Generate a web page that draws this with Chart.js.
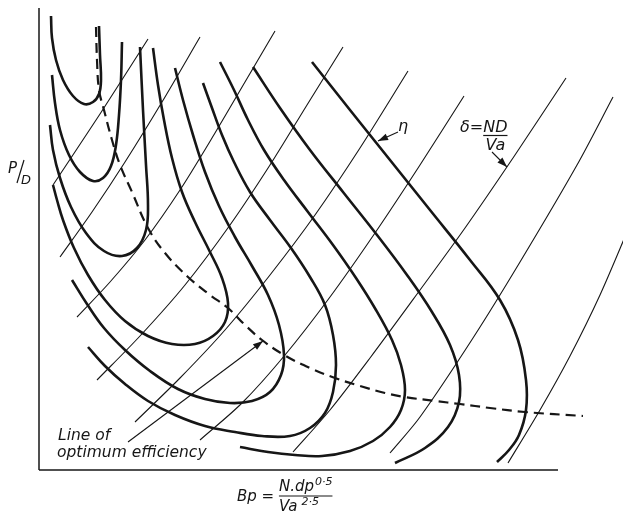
<!DOCTYPE html>
<html>
<head>
<meta charset="utf-8">
<script src="https://cdn.jsdelivr.net/npm/chart.js@4.4.1/dist/chart.umd.min.js"></script>
<style>
  html, body { margin: 0; padding: 0; background: #fff; }
  canvas { display: block; }
</style>
</head>
<body>
<canvas id="chart" width="623" height="512"></canvas>
<script>
// Bp-delta propeller design chart, no scale values, plot units only
// x runs 0..584 along Bp (axis drawn to 519), y runs 0..462 along P/D

// efficiency contours (eta), innermost first
const eta1 = [[60,444],[61,415],[62,390],[60,376],[54,368],[45,366],[34,374],[24,390],[17,410],[13,432],[12,454]];
const eta2 = [[83,428],[82,390],[80,355],[77,325],[72,304],[64,292],[54,289],[41,298],[30,315],[21,340],[16,367],[13,395]];
const eta3 = [[101,423],[104,360],[107,305],[109,265],[107,240],[98,222],[83,214],[65,219],[47,237],[32,263],[21,292],[14,320],[11,345]];
const eta4 = [[114,422],[119,385],[125,350],[133,312],[143,278],[156,248],[171,218],[183,192],[189,167],[186,148],[174,134],[156,126],[133,126],[109,134],[86,149],[66,170],[49,195],[35,222],[24,250],[18,270],[14,285]];
const eta5 = [[136,402],[144,370],[154,335],[166,298],[180,264],[196,233],[213,204],[229,175],[240,145],[245,115],[242,95],[231,78],[213,69],[191,67],[166,71],[139,81],[111,99],[86,120],[65,142],[48,166],[33,190]];
const eta6 = [[164,387],[173,362],[183,335],[195,308],[211,278],[231,250],[252,222],[271,193],[286,165],[294,135],[297,105],[294,78],[286,57],[271,42],[251,34],[223,34],[196,38],[166,44],[136,55],[109,69],[86,86],[66,104],[49,123]];
const eta7 = [[181,408],[195,380],[209,350],[225,320],[245,290],[269,258],[294,225],[317,192],[337,160],[353,130],[362,105],[366,80],[362,60],[351,43],[334,29],[311,19],[283,14],[256,15],[229,18],[201,23]];
const eta8 = [[214,403],[241,362],[271,320],[304,278],[338,235],[368,195],[393,158],[411,125],[420,95],[420,68],[409,43],[386,22],[356,7]];
const eta9 = [[273,408],[311,360],[351,310],[391,260],[431,210],[461,170],[479,130],[487,90],[487,60],[480,35],[470,20],[458,8]];
const etaCurves = [eta1, eta2, eta3, eta4, eta5, eta6, eta7, eta8, eta9];

// lines of constant delta = ND/Va
const delta1 = [[14,285],[61,356],[109,431]];
const delta2 = [[21,213],[53,258],[86,308],[123,368],[161,433]];
const delta3 = [[38,153],[71,188],[106,230],[141,280],[176,337],[206,388],[236,439]];
const delta4 = [[58,90],[101,134],[146,185],[191,245],[231,305],[268,365],[304,423]];
const delta5 = [[96,48],[141,92],[186,140],[231,195],[276,255],[321,322],[369,399]];
const delta6 = [[161,30],[203,67],[246,115],[291,173],[336,237],[381,305],[425,374]];
const delta7 = [[254,18],[291,60],[331,112],[381,180],[426,242],[476,315],[527,392]];
const delta8 = [[351,17],[381,53],[434,132],[481,208],[538,305],[574,373]];
const delta9 = [[469,7],[501,60],[531,114],[561,175],[591,245]];
const deltaLines = [delta1, delta2, delta3, delta4, delta5, delta6, delta7, delta8, delta9];

// line of optimum efficiency
const optimum = [[57,443],[58,410],[60,380],[65,360],[73,330],[81,305],[93,278],[109,242],[126,217],[149,193],[171,175],[189,162],[206,145],[223,130],[245,115],[271,102],[296,92],[321,84],[346,77],[366,73],[396,69],[421,66],[451,62],[486,58],[544,54]];

// leader arrows (tail, head)
const optimumArrow = [[89,28],[224,129]];
const etaArrow = [[359,338],[339,329]];
const deltaArrow = [[453,318],[468,303]];

// axis lines
const xAxisLine = [[0,0],[519,0]];
const yAxisLine = [[0,0],[0,462]];

const ink = '#161616';
const pts = a => a.map(([x, y]) => ({ x, y }));

const datasets = [];
etaCurves.forEach(c => datasets.push({
  data: pts(c), borderColor: ink, borderWidth: 2.6, tension: 0.4
}));
deltaLines.forEach(c => datasets.push({
  data: pts(c), borderColor: ink, borderWidth: 1.1, tension: 0.3
}));
datasets.push({
  data: pts(optimum), borderColor: ink, borderWidth: 2.2, borderDash: [10, 6], tension: 0.4
});
[optimumArrow, etaArrow, deltaArrow].forEach(a => datasets.push({
  data: pts(a), borderColor: ink, borderWidth: 1.1, tension: 0, arrowHead: true
}));
[xAxisLine, yAxisLine].forEach(a => datasets.push({
  data: pts(a), borderColor: ink, borderWidth: 1.5, tension: 0
}));

// text and arrowheads drawn on top of the series
const annotations = {
  id: 'annotations',
  afterDatasetsDraw(chart) {
    const { ctx, scales: { x, y } } = chart;
    const px = v => x.getPixelForValue(v);
    const py = v => y.getPixelForValue(v);
    ctx.save();
    ctx.fillStyle = ink;
    ctx.strokeStyle = ink;

    // arrowheads
    chart.data.datasets.forEach((ds, i) => {
      if (!ds.arrowHead) return;
      const el = chart.getDatasetMeta(i).data;
      const a = el[el.length - 2], b = el[el.length - 1];
      const ang = Math.atan2(b.y - a.y, b.x - a.x);
      ctx.save();
      ctx.translate(b.x, b.y);
      ctx.rotate(ang);
      ctx.beginPath();
      ctx.moveTo(0, 0);
      ctx.lineTo(-10, -3.5);
      ctx.lineTo(-10, 3.5);
      ctx.closePath();
      ctx.fill();
      ctx.restore();
    });

    ctx.textBaseline = 'alphabetic';

    // eta
    ctx.textAlign = 'center';
    ctx.font = 'italic 16px "DejaVu Sans"';
    ctx.fillText('η', px(364), py(339));

    // delta = ND / Va
    ctx.textAlign = 'left';
    const x0 = px(421), y0 = py(338);
    ctx.fillText('δ=', x0, y0);
    const w = ctx.measureText('δ=').width;
    ctx.fillText('ND', x0 + w, y0);
    const nd = ctx.measureText('ND').width;
    ctx.lineWidth = 1.2;
    ctx.beginPath();
    ctx.moveTo(x0 + w, y0 + 3.5);
    ctx.lineTo(x0 + w + nd, y0 + 3.5);
    ctx.stroke();
    ctx.textAlign = 'center';
    ctx.fillText('Va', x0 + w + nd / 2, y0 + 18);

    // P/D
    ctx.textAlign = 'left';
    ctx.font = 'italic 15px "DejaVu Sans"';
    ctx.fillText('P', px(-31), py(297));
    ctx.lineWidth = 1.2;
    ctx.beginPath();
    ctx.moveTo(px(-22), py(287));
    ctx.lineTo(px(-15), py(310));
    ctx.stroke();
    ctx.font = 'italic 13px "DejaVu Sans"';
    ctx.fillText('D', px(-18), py(286));

    // optimum efficiency note
    ctx.font = 'italic 15.5px "DejaVu Sans"';
    ctx.fillText('Line of', px(19), py(30));
    ctx.fillText('optimum efficiency', px(18), py(13));

    // Bp = N.dp^0.5 / Va^2.5
    const bx = px(198), by = py(-31);
    ctx.font = 'italic 15px "DejaVu Sans"';
    ctx.fillText('Bp =', bx, by);
    const fx = bx + ctx.measureText('Bp = ').width;
    ctx.fillText('N.dp', fx, by - 10);
    const nw = ctx.measureText('N.dp').width;
    ctx.font = 'italic 11px "DejaVu Sans"';
    ctx.fillText('0·5', fx + nw + 1, by - 16);
    const sw = ctx.measureText('0·5').width;
    ctx.lineWidth = 1.1;
    ctx.beginPath();
    ctx.moveTo(fx, by - 5);
    ctx.lineTo(fx + nw + sw + 1, by - 5);
    ctx.stroke();
    ctx.font = 'italic 15px "DejaVu Sans"';
    ctx.fillText('Va', fx, by + 10);
    const vw = ctx.measureText('Va').width;
    ctx.font = 'italic 11px "DejaVu Sans"';
    ctx.fillText('2·5', fx + vw + 4, by + 4);

    ctx.restore();
  }
};

new Chart(document.getElementById('chart'), {
  type: 'scatter',
  data: { datasets },
  options: {
    responsive: false,
    animation: false,
    devicePixelRatio: 1,
    layout: { padding: { left: 39, right: 0, top: 8, bottom: 42 } },
    datasets: { scatter: { showLine: true, pointRadius: 0, clip: false, fill: false } },
    scales: {
      x: { type: 'linear', min: 0, max: 584, display: false },
      y: { type: 'linear', min: 0, max: 462, display: false }
    },
    plugins: { legend: { display: false }, tooltip: { enabled: false } }
  },
  plugins: [annotations]
});
</script>
</body>
</html>
